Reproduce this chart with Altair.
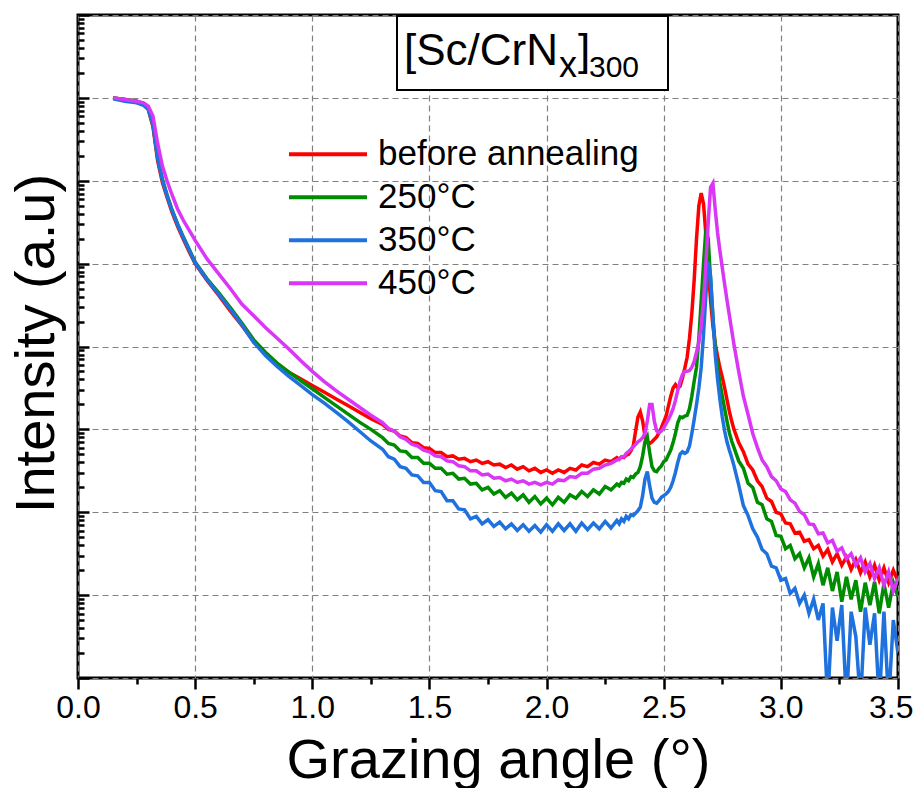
import altair as alt
import pandas as pd

# ---------------- data (log10 of intensity) ----------------
ANGLE = [
    0.15, 0.2, 0.25, 0.28, 0.3, 0.32, 0.34, 0.36, 0.38, 0.4, 0.425, 0.45, 0.475,
    0.5, 0.55, 0.6, 0.65, 0.7, 0.75, 0.8, 0.85, 0.9, 0.95, 1.0, 1.05, 1.1, 1.15, 1.2, 1.25,
    1.3, 1.325, 1.35, 1.375, 1.4, 1.425, 1.45, 1.475, 1.5, 1.525, 1.55, 1.575, 1.6, 1.625,
    1.65, 1.675, 1.7, 1.725, 1.75, 1.775, 1.8, 1.825, 1.85, 1.875, 1.9, 1.925, 1.95, 1.975,
    2.0, 2.025, 2.05, 2.075, 2.1, 2.125, 2.15, 2.175, 2.2, 2.225, 2.25, 2.275,
    2.3, 2.31, 2.32, 2.33, 2.34, 2.35, 2.36, 2.37, 2.38, 2.39,
    2.4, 2.41, 2.42, 2.43, 2.44, 2.45, 2.46, 2.47, 2.48, 2.49,
    2.5, 2.51, 2.52, 2.53, 2.54, 2.55, 2.56, 2.57, 2.58, 2.59,
    2.6, 2.61, 2.62, 2.63, 2.64, 2.65, 2.66, 2.67, 2.68, 2.69,
    2.7, 2.71, 2.72, 2.73, 2.74, 2.75, 2.76, 2.77, 2.78, 2.79,
    2.8, 2.82, 2.84, 2.86, 2.88, 2.9, 2.92, 2.94, 2.96, 2.98,
    3.0, 3.02, 3.04, 3.06, 3.08, 3.1, 3.12, 3.14, 3.16, 3.18,
    3.2, 3.22, 3.24, 3.26, 3.28, 3.3, 3.32, 3.34, 3.36, 3.38,
    3.4, 3.42, 3.44, 3.46, 3.48, 3.5,
]

LOG_BEFORE = [
    7.00, 6.98, 6.96, 6.93, 6.86, 6.65, 6.24, 5.98, 5.80, 5.63, 5.45, 5.29, 5.14,
    5.00, 4.80, 4.62, 4.43, 4.25, 4.06, 3.91, 3.79, 3.69, 3.61, 3.53, 3.45, 3.37, 3.29, 3.21, 3.13,
    3.06, 3.00, 2.98, 2.92, 2.90, 2.84, 2.83, 2.78, 2.77, 2.72, 2.72, 2.67, 2.68, 2.64,
    2.65, 2.61, 2.63, 2.59, 2.61, 2.57, 2.58, 2.54, 2.57, 2.52, 2.55, 2.50, 2.53, 2.48,
    2.51, 2.47, 2.51, 2.48, 2.53, 2.51, 2.57, 2.55, 2.60, 2.58, 2.63, 2.61,
    2.66, 2.64, 2.67, 2.66, 2.69, 2.70, 2.74, 2.80, 2.98, 3.15,
    3.21, 3.10, 2.92, 2.85, 2.83, 2.85, 2.88, 2.91, 2.96, 3.02,
    3.09, 3.16, 3.28, 3.40, 3.50, 3.54, 3.50, 3.52, 3.62, 3.74,
    3.87, 4.10, 4.40, 4.80, 5.30, 5.70, 5.85, 5.72, 5.35, 4.95,
    4.55, 4.25, 4.03, 3.88, 3.74, 3.63, 3.50, 3.36, 3.22, 3.10,
    3.00, 2.84, 2.73, 2.58, 2.51, 2.38, 2.31, 2.17, 2.13, 2.00,
    1.98, 1.87, 1.86, 1.75, 1.76, 1.65, 1.67, 1.56, 1.60, 1.47,
    1.55, 1.40, 1.50, 1.36, 1.46, 1.31, 1.43, 1.27, 1.40, 1.22,
    1.36, 1.18, 1.33, 1.15, 1.30, 1.17,
]

LOG_250 = [
    7.00, 6.98, 6.96, 6.93, 6.87, 6.68, 6.28, 6.02, 5.83, 5.66, 5.48, 5.32, 5.17,
    5.02, 4.82, 4.65, 4.47, 4.28, 4.08, 3.93, 3.80, 3.69, 3.59, 3.49, 3.39, 3.29, 3.19, 3.09, 3.00,
    2.90, 2.83, 2.81, 2.74, 2.73, 2.66, 2.66, 2.59, 2.59, 2.53, 2.53, 2.46, 2.47, 2.40,
    2.41, 2.34, 2.35, 2.27, 2.30, 2.22, 2.26, 2.18, 2.23, 2.15, 2.21, 2.12, 2.19, 2.10,
    2.17, 2.09, 2.18, 2.12, 2.21, 2.17, 2.25, 2.19, 2.27, 2.22, 2.31, 2.27,
    2.34, 2.32, 2.36, 2.35, 2.40, 2.38, 2.43, 2.42, 2.46, 2.48,
    2.55, 2.68, 2.85, 2.91, 2.72, 2.55, 2.50, 2.49, 2.53, 2.56,
    2.61, 2.63, 2.69, 2.75, 2.84, 2.95, 3.08, 3.15, 3.14, 3.16,
    3.17, 3.25, 3.40, 3.58, 3.75, 4.10, 4.55, 5.00, 5.42, 5.30,
    4.80, 4.35, 4.00, 3.75, 3.56, 3.40, 3.25, 3.10, 2.96, 2.86,
    2.78, 2.62, 2.53, 2.35, 2.30, 2.12, 2.09, 1.92, 1.89, 1.72,
    1.71, 1.56, 1.60, 1.44, 1.50, 1.33, 1.45, 1.22, 1.38, 1.12,
    1.33, 1.05, 1.28, 0.92, 1.22, 0.95, 1.18, 0.80, 1.15, 0.88,
    1.16, 0.78, 1.14, 0.85, 1.15, 0.98,
]

LOG_350 = [
    6.99, 6.96, 6.94, 6.91, 6.86, 6.68, 6.27, 6.01, 5.82, 5.65, 5.47, 5.31, 5.16,
    5.01, 4.81, 4.63, 4.45, 4.26, 4.05, 3.89, 3.76, 3.64, 3.53, 3.42, 3.32, 3.21, 3.10, 2.98, 2.86,
    2.76, 2.67, 2.64, 2.55, 2.53, 2.45, 2.44, 2.36, 2.36, 2.26, 2.25, 2.14, 2.14, 2.04,
    2.03, 1.92, 1.95, 1.86, 1.91, 1.83, 1.88, 1.80, 1.86, 1.78, 1.85, 1.77, 1.84, 1.76,
    1.85, 1.77, 1.86, 1.78, 1.86, 1.77, 1.87, 1.79, 1.87, 1.80, 1.89, 1.81,
    1.90, 1.86, 1.92, 1.89, 1.95, 1.92, 1.97, 1.96, 1.99, 2.02,
    2.06, 2.20, 2.40, 2.49, 2.32, 2.17, 2.12, 2.11, 2.14, 2.18,
    2.20, 2.22, 2.25, 2.30, 2.38, 2.48, 2.60, 2.70, 2.73, 2.71,
    2.73, 2.80, 2.95, 3.12, 3.30, 3.50, 3.75, 4.15, 4.62, 5.02,
    4.85, 4.36, 3.90, 3.60, 3.36, 3.15, 2.98, 2.85, 2.75, 2.66,
    2.56, 2.33, 2.08, 1.96, 1.80, 1.70, 1.55, 1.50, 1.35, 1.33,
    1.18, 1.20, 1.02, 1.08, 0.90, 1.00, 0.78, 0.95, 0.70, 0.90,
    -0.3, 0.85, 0.45, 0.88, -0.3, 0.80, 0.50, -0.3, 0.85, 0.40,
    0.78, -0.3, 0.80, -0.3, 0.70, 0.30,
]

LOG_450 = [
    7.00, 6.98, 6.96, 6.94, 6.90, 6.78, 6.45, 6.18, 6.00, 5.84, 5.66, 5.52, 5.40,
    5.28, 5.06, 4.88, 4.70, 4.51, 4.37, 4.23, 4.10, 3.97, 3.83, 3.70, 3.58, 3.47, 3.37, 3.27, 3.17,
    3.08, 3.01, 2.98, 2.91, 2.88, 2.82, 2.80, 2.75, 2.73, 2.68, 2.67, 2.62, 2.61, 2.56,
    2.55, 2.50, 2.50, 2.45, 2.46, 2.41, 2.42, 2.38, 2.40, 2.36, 2.38, 2.34, 2.36, 2.33,
    2.36, 2.34, 2.39, 2.38, 2.43, 2.42, 2.47, 2.47, 2.52, 2.53, 2.57, 2.59,
    2.63, 2.64, 2.67, 2.67, 2.71, 2.73, 2.76, 2.79, 2.82, 2.85,
    2.87, 2.90, 2.95, 3.10, 3.30, 3.30, 3.10, 2.98, 2.96, 2.98,
    3.02, 3.07, 3.12, 3.18, 3.25, 3.35, 3.47, 3.58, 3.66, 3.70,
    3.70, 3.71, 3.75, 3.82, 3.93, 4.05, 4.25, 4.55, 5.00, 5.50,
    5.92, 5.97, 5.65, 5.37, 5.15, 4.95, 4.75, 4.56, 4.38, 4.20,
    4.02, 3.70, 3.40, 3.18, 2.95, 2.78, 2.63, 2.55, 2.43, 2.38,
    2.28, 2.25, 2.15, 2.11, 2.01, 1.97, 1.86, 1.85, 1.74, 1.75,
    1.63, 1.66, 1.53, 1.57, 1.44, 1.50, 1.36, 1.45, 1.28, 1.38,
    1.20, 1.33, 1.12, 1.28, 1.05, 1.20,
]

SERIES = ["before annealing", "250°C", "350°C", "450°C"]
COLORS = ["#ff0000", "#008c00", "#1f72dd", "#d936f6"]
LOGS = [LOG_BEFORE, LOG_250, LOG_350, LOG_450]

rows = []
for name, logs in zip(SERIES, LOGS):
    assert len(logs) == len(ANGLE), (name, len(logs), len(ANGLE))
    for a, lv in zip(ANGLE, logs):
        rows.append({"sample": name, "angle": a, "intensity": 10 ** lv})
df = pd.DataFrame(rows)

# ---------------- layout ----------------
W, H = 820, 663
SANS = "Liberation Sans, Arial"

X_MAJOR = "abs(datum.value*2 - round(datum.value*2)) < 0.001"
X_LAST = "datum.value > 3.49"
Y_MAJOR = "abs(log(datum.value)/LN10 - round(log(datum.value)/LN10)) < 0.001"

x_ticks = [i * 0.25 for i in range(15)]
y_ticks = [m * 10 ** d for d in range(8) for m in range(1, 10)] + [10 ** 8]

x_axis = alt.Axis(
    values=x_ticks,
    labelExpr=f"{X_MAJOR} ? format(datum.value, '.1f') : ''",
    labelOverlap=False, labelFlush=False, labelBound=False,
    labelAlign={"condition": {"test": X_LAST, "value": "right"}, "value": "center"},
    labelOffset={"condition": {"test": X_LAST, "value": 15}, "value": 0},
    grid=True, gridColor="#808080", gridDash=[6, 4], gridWidth=1.2,
    gridOpacity={"condition": {"test": X_MAJOR, "value": 1}, "value": 0},
    domain=False, ticks=True, tickColor="black", tickWidth=2.5,
    tickSize={"condition": {"test": X_MAJOR, "value": 11}, "value": 6},
    labelFont=SANS, labelFontSize=32, labelColor="black", labelPadding=3,
    title="Grazing angle (°)", titleFont=SANS, titleFontSize=56,
    titleFontWeight="normal", titleColor="black",
    titleX=420, titleY=99, titleAlign="center", titleBaseline="alphabetic",
)

y_axis = alt.Axis(
    orient="right", offset=-W, values=y_ticks, labels=False,
    grid=True, gridColor="#808080", gridDash=[6, 4], gridWidth=1.2,
    gridOpacity={"condition": {"test": Y_MAJOR, "value": 1}, "value": 0},
    domain=False, ticks=True, tickColor="black", tickWidth=2.5,
    tickSize={"condition": {"test": Y_MAJOR, "value": 11}, "value": 6},
    title="Intensity (a.u)", titleFont=SANS, titleFontSize=56,
    titleFontWeight="normal", titleColor="black",
    titleAngle=270, titleX=-25, titleY=328, titleAlign="center",
    titleBaseline="alphabetic",
)

legend = alt.Legend(
    title=None, orient="none", legendX=209, legendY=118,
    symbolType="stroke", symbolSize=6084, symbolStrokeWidth=4,
    labelFont=SANS, labelFontSize=35, labelColor="black", labelLimit=500,
    clipHeight=42.5, rowPadding=0, labelOffset=9, padding=0,
)

lines = alt.Chart(df).mark_line(strokeWidth=3.5, clip=True).encode(
    x=alt.X("angle:Q", scale=alt.Scale(domain=[0, 3.5], nice=False, zero=False), axis=x_axis),
    y=alt.Y("intensity:Q", scale=alt.Scale(type="log", domain=[1, 1e8], nice=False), axis=y_axis),
    color=alt.Color("sample:N", scale=alt.Scale(domain=SERIES, range=COLORS), legend=legend),
)

one = pd.DataFrame({"k": [0]})
box = alt.Chart(one).mark_rect(fill="white", stroke="black", strokeWidth=2).encode(
    x=alt.value(319), x2=alt.value(590), y=alt.value(1), y2=alt.value(75)
)


def piece(txt, xpos, ypos, size):
    return alt.Chart(pd.DataFrame({"t": [txt]})).mark_text(
        align="left", baseline="alphabetic", fontSize=size, font=SANS, color="black"
    ).encode(text="t:N", x=alt.value(xpos), y=alt.value(ypos))


t1 = piece("[Sc/CrN", 326, 50, 44)
t2 = piece("x", 481, 62, 36)
t3 = piece("]", 500, 50, 44)
t4 = piece("300", 511, 62, 30)

chart = alt.layer(lines, box, t1, t2, t3, t4).properties(
    width=W, height=H,
    autosize=alt.AutoSizeParams(type="none"),
    padding={"left": 70, "top": 7, "right": 15, "bottom": 110},
).configure_view(stroke="black", strokeWidth=3)

chart.save("out.html", embed_options={"renderer": "svg", "actions": False})
